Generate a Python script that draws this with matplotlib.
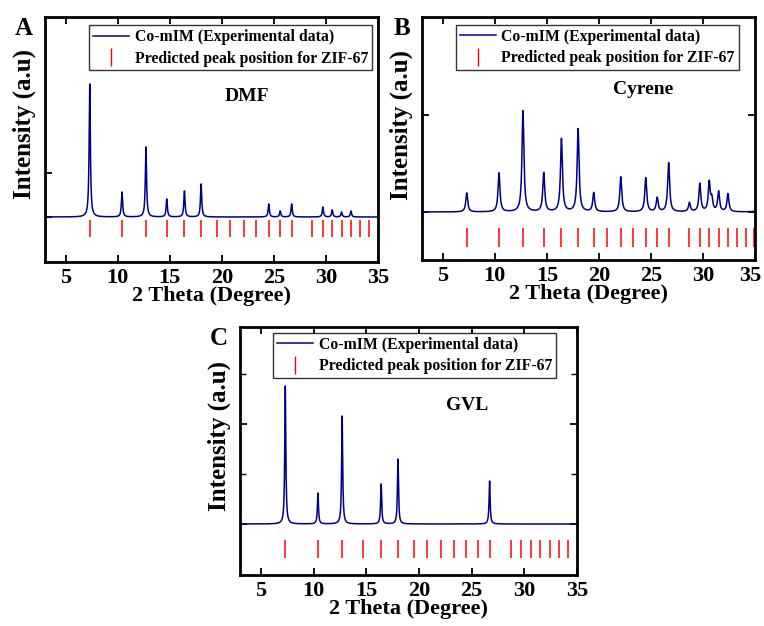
import numpy as np
import matplotlib.pyplot as plt
import matplotlib.transforms as mtransforms
from matplotlib.lines import Line2D

plt.rcParams['font.family'] = ['Liberation Serif', 'DejaVu Serif']
plt.rcParams['font.weight'] = 'bold'

# peak lists (2theta, height in a.u.)
dmf_pos = [7.3, 10.4, 12.7, 14.7, 16.4, 18.0, 24.5, 25.6, 26.7, 29.7, 30.6, 31.5, 32.4]
dmf_h = [133, 25, 70, 18, 26, 33, 13, 6, 13, 10, 7, 5, 6]

cyr_pos = [7.3, 10.4, 12.7, 14.7, 16.4, 18.0, 19.5, 22.1, 24.5, 25.6, 26.7, 28.7,
           29.7, 30.6, 30.85, 31.5, 32.4, 35.4]
cyr_h = [19, 39, 101, 39, 73, 83, 19, 35, 34, 14, 49, 9, 28, 29, 12, 20, 18, 14]

gvl_pos = [7.3, 10.4, 12.7, 16.4, 18.0, 26.7, 36.5]
gvl_h = [138, 31, 108, 40, 65, 43, 6]

# predicted ZIF-67 positions
zif_pos = [7.3, 10.4, 12.7, 14.7, 16.4, 18.0, 19.5, 20.8, 22.1, 23.3, 24.5, 25.6,
           26.7, 28.7, 29.7, 30.6, 31.5, 32.4, 33.3, 34.1]
zif_extra_b = [34.9]

tt = np.linspace(3, 35, 3000)


def pattern(pos, h, w):
    y = np.zeros_like(tt)
    for p, a in zip(pos, h):
        y += a / (1 + ((tt - p) / w) ** 2)
    return y


def panel(ax, pos, h, w, zpos, zlo, zhi, ylo, yhi, label, name, namexy, legxy, ylaby):
    ax.plot(tt, pattern(pos, h, w), color='#00008B', lw=1.1)
    ax.vlines(zpos, zlo, zhi, color='red', lw=1.1)
    ax.set_xlim(3, 35)
    ax.set_ylim(ylo, yhi)
    ax.set_xticks([5, 10, 15, 20, 25, 30, 35])
    ax.tick_params(direction='in', top=True, right=True, labelsize=16, length=5, width=1.3, pad=4)
    for t in ax.get_xticklabels():
        t.set_fontweight('bold')
    ax.set_yticklabels([])
    for s in ax.spines.values():
        s.set_linewidth(2)
    ax.set_xlabel('2 Theta (Degree)', fontsize=16, fontweight='bold', labelpad=-1)
    ax.set_ylabel('Intensity (a.u)', fontsize=18, fontweight='bold')
    ax.yaxis.set_label_coords(-0.026, ylaby)
    ax.text(-0.036, 1.0, label, transform=ax.transAxes, fontsize=18, fontweight='bold',
            ha='right', va='top')
    ax.text(namexy[0], namexy[1], name, transform=ax.transAxes, fontsize=14,
            fontweight='bold', ha='center', va='center')
    handles = [Line2D([], [], color='#00008B', lw=1.1),
               Line2D([], [], color='red', lw=1.1, marker='|', ls='none', markersize=13)]
    leg = ax.legend(handles, ['Co-mIM (Experimental data)', 'Predicted peak position for ZIF-67'],
                    loc='upper left', bbox_to_anchor=legxy, fontsize=11.3, frameon=True,
                    fancybox=False, edgecolor='black', handlelength=2.3, borderpad=0.25,
                    labelspacing=0.35, handletextpad=0.35, borderaxespad=0)
    leg.get_frame().set_linewidth(1.0)
    for t in leg.get_texts():
        t.set_fontweight('bold')


fig = plt.figure(figsize=(7.64, 6.26), dpi=100)
W, H = 764, 626

axA = fig.add_axes([45 / W, 1 - 262 / H, 333 / W, 245 / H])
panel(axA, dmf_pos, dmf_h, 0.07, zif_pos, -20, -3, -45, 200, 'A', 'DMF', (0.605, 0.675),
      (0.133, 0.967), 0.563)
axA.set_yticks([0, 44])
axA.tick_params(axis='y', right=False)

axB = fig.add_axes([422 / W, 1 - 260 / H, 333 / W, 243 / H])
panel(axB, cyr_pos, cyr_h, 0.11, zif_pos + zif_extra_b, -35, -16, -48, 195, 'B', 'Cyrene',
      (0.665, 0.7), (0.102, 0.967), 0.556)
axB.set_yticks([0, 97])
# last label sits a little left of its tick, at the figure edge
last = axB.get_xticklabels()[-1]
last.set_transform(last.get_transform() + mtransforms.ScaledTranslation(-5 / 100, 0, fig.dpi_scale_trans))

axC = fig.add_axes([240 / W, 1 - 575 / H, 337 / W, 248 / H])
panel(axC, gvl_pos, gvl_h, 0.06, zif_pos, -34, -16, -51, 197, 'C', 'GVL', (0.675, 0.685),
      (0.098, 0.976), 0.56)
axC.set_yticks([0, 100])
axC.set_yticks([50, 150], minor=True)
axC.tick_params(axis='y', which='minor', direction='in', right=True, length=4, width=1)

fig.savefig('out.png', dpi=100)
